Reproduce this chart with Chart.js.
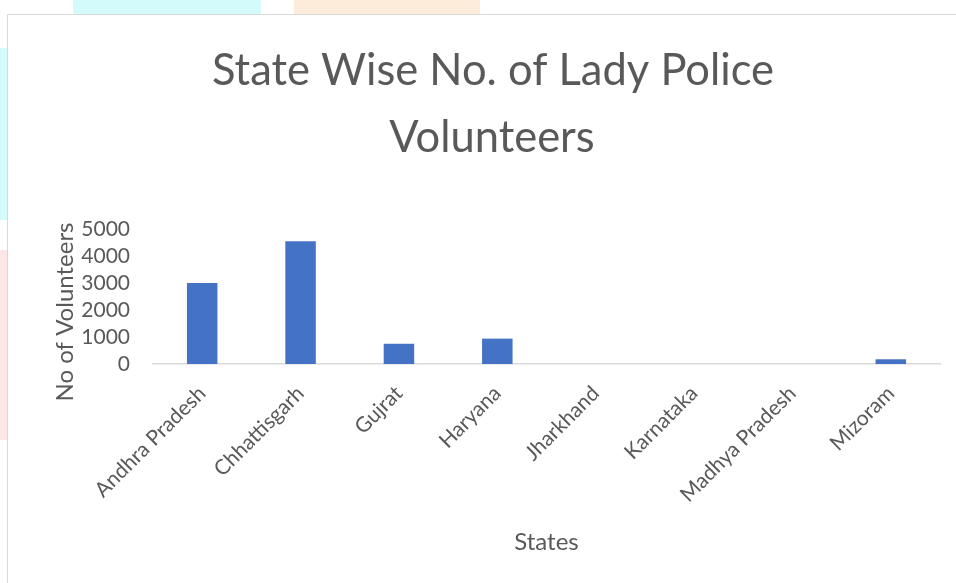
<!DOCTYPE html>
<html>
<head>
<meta charset="utf-8">
<script src="https://cdn.jsdelivr.net/npm/chart.js@4"></script>
<style>
  html, body { margin: 0; padding: 0; background: #fff; overflow: hidden; }
  #wrap { position: relative; width: 956px; height: 583px; }
  .wm { position: absolute; }
  #box { position: absolute; left: 7px; top: 14px; width: 970px; height: 600px; border: 1px solid #d9d9d9; background: #fff; }
  #chart { position: absolute; left: 0; top: 0; }
</style>
</head>
<body>
<div id="wrap">
  <div class="wm" style="left:73px;top:0;width:188px;height:14px;background:#d3fbfb"></div>
  <div class="wm" style="left:294px;top:0;width:186px;height:14px;background:#fdecd9"></div>
  <div class="wm" style="left:0;top:48px;width:7px;height:172px;background:#d3fbfb"></div>
  <div class="wm" style="left:0;top:250px;width:7px;height:190px;background:#fde6e6"></div>
  <div id="box"></div>
  <canvas id="chart" width="956" height="583"></canvas>
</div>
<script>
const states = ["Andhra Pradesh", "Chhattisgarh", "Gujrat", "Haryana", "Jharkhand", "Karnataka", "Madhya Pradesh", "Mizoram"];
const volunteers = [3000, 4550, 750, 940, 0, 0, 0, 175];
const titleLines = ["State Wise No. of Lady Police", "Volunteers"];
const yTitle = "No of Volunteers";
const yTicks = [0, 1000, 2000, 3000, 4000, 5000];

const textColor = "#595959";
const font = "Lato";

// chart title and y title drawn by hand, they sit off-centre in the original
const textPlugin = {
  id: "extraText",
  afterDraw(c) {
    const g = c.ctx;
    g.save();
    g.fillStyle = textColor;
    g.textAlign = "center";
    g.font = "400 43.5px " + font;
    g.textBaseline = "alphabetic";
    g.fillText(titleLines[0], 493, 85);
    g.fillText(titleLines[1], 492, 152);
    g.font = "400 24px " + font;
    g.textBaseline = "middle";
    g.translate(65, 312);
    g.rotate(-Math.PI / 2);
    g.fillText(yTitle, 0, 0);
    g.restore();
  }
};

const ctx = document.getElementById("chart").getContext("2d");
const chart = new Chart(ctx, {
  type: "bar",
  data: {
    labels: states,
    datasets: [{
      label: yTitle,
      data: volunteers,
      backgroundColor: "#4472C4",
      borderWidth: 0,
      categoryPercentage: 1,
      barPercentage: 0.31
    }]
  },
  options: {
    responsive: false,
    animation: false,
    layout: { padding: { top: 229, right: 16, left: 0, bottom: 0 } },
    plugins: { legend: { display: false }, tooltip: { enabled: false }, title: { display: false } },
    scales: {
      x: {
        grid: { display: false, drawTicks: false },
        border: { display: true, color: "#d9d9d9", width: 1.5 },
        ticks: { color: textColor, font: { family: font, size: 21 }, minRotation: 45, maxRotation: 45, padding: 17, autoSkip: false },
        title: { display: true, text: "States", color: textColor, font: { family: font, size: 24 }, padding: { top: 0, bottom: 26 } },
        afterFit(s) { s.height = 219; }
      },
      y: {
        min: 0,
        max: 5000,
        afterBuildTicks(s) { s.ticks = yTicks.map(v => ({ value: v })); },
        grid: { display: false, drawTicks: false },
        border: { display: false },
        ticks: { color: textColor, font: { family: font, size: 21 }, padding: 23, autoSkip: false, callback: v => String(v) },
        afterFit(s) { s.width = 153; }
      }
    }
  },
  plugins: [textPlugin]
});
</script>
</body>
</html>
